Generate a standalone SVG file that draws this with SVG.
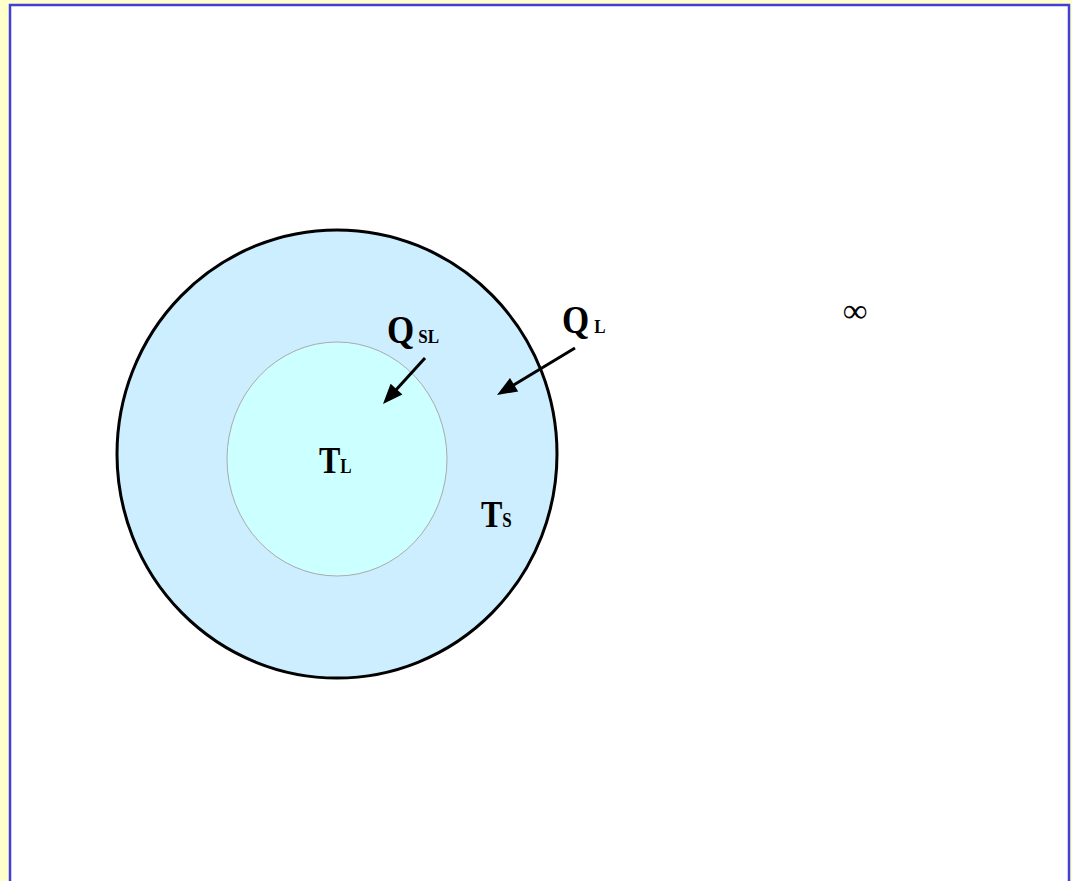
<svg xmlns="http://www.w3.org/2000/svg" width="1072" height="881" viewBox="0 0 1072 881">
<defs>
<style>
.t{font-family:"Liberation Serif","Times New Roman",serif;font-weight:bold;fill:#000}
.big{font-size:35px}
.mid{font-size:32px}
.sub{font-size:17px}
.ar{stroke:#000;stroke-width:3;fill:none}
.hd{fill:#000;stroke:none}
</style>
</defs>
<rect x="0" y="0" width="1072" height="881" fill="#ffffcc"/>
<rect x="10" y="5" width="1059" height="900" fill="#fff" stroke="#4040d8" stroke-width="2.5"/>
<g id="outer"><ellipse cx="337" cy="454" rx="220" ry="224" fill="#cceeff" stroke="#000" stroke-width="3"/></g>
<g id="inner"><ellipse cx="337" cy="459" rx="110" ry="117" fill="#ccffff" stroke="#aaaaaa" stroke-width="1"/></g>
<g id="connectors">
<line class="ar" x1="425" y1="358" x2="395" y2="391"/>
<polygon class="hd" points="383,404 402.4,394.6 390.6,383.8"/>
<line class="ar" x1="575" y1="348" x2="512" y2="386"/>
<polygon class="hd" points="497,395 518.2,391.5 510,377.9"/>
</g>
<g id="label-QSL"><text class="t" transform="translate(387,343) scale(1,1.12)"><tspan class="big">Q</tspan><tspan class="sub" dx="4">SL</tspan></text></g>
<g id="label-QL"><text class="t" transform="translate(562,333) scale(1,1.12)"><tspan class="big">Q</tspan><tspan class="sub" dx="5">L</tspan></text></g>
<g id="label-TL"><text class="t" transform="translate(319,473) scale(1,1.2)"><tspan class="mid">T</tspan><tspan class="sub">L</tspan></text></g>
<g id="label-TS"><text class="t" transform="translate(481,527) scale(1,1.2)"><tspan class="mid">T</tspan><tspan class="sub">S</tspan></text></g>
<g id="label-inf"><text x="843" y="322" font-family="Liberation Serif, serif" font-weight="bold" font-size="34" fill="#000">∞</text></g>
</svg>
